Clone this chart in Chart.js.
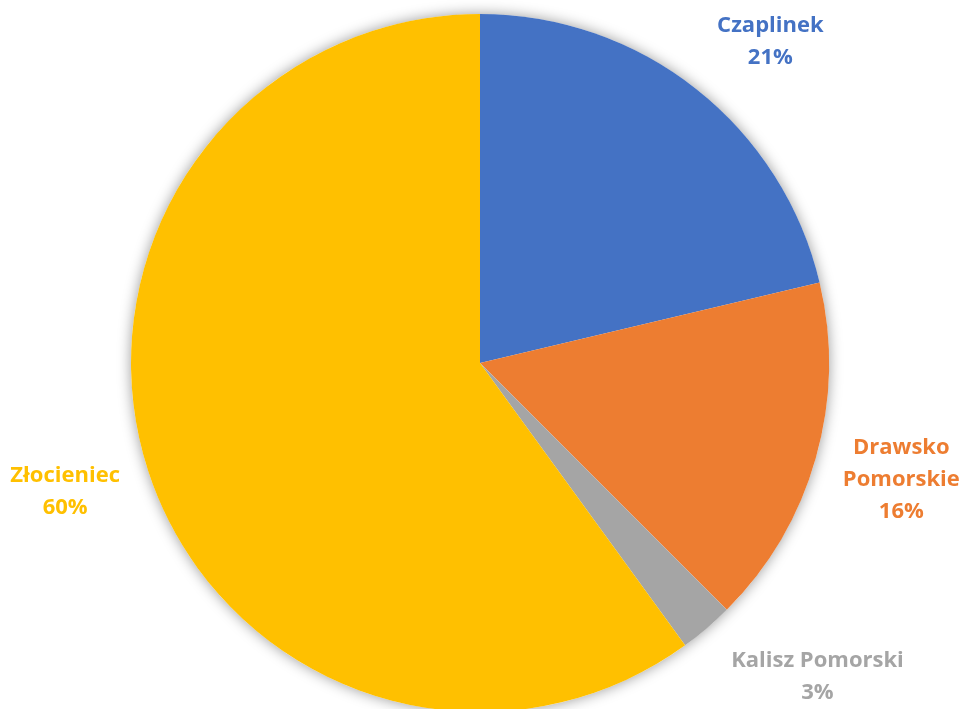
<!DOCTYPE html>
<html>
<head>
<meta charset="utf-8">
<script src="https://cdn.jsdelivr.net/npm/chart.js@4.4.0/dist/chart.umd.min.js"></script>
<style>
    html, body { margin: 0; padding: 0; background: #ffffff; overflow: hidden; }
    #wrap { width: 964px; height: 726px; position: relative; }
</style>
</head>
<body>
<div id="wrap"><canvas id="pieChart"></canvas></div>
<script>
// dane
const towns = ['Czaplinek', 'Drawsko Pomorskie', 'Kalisz Pomorski', 'Złocieniec'];
const shares = [21.3, 16.2, 2.5, 60.0];
const townColors = ['#4472C4', '#ED7D31', '#A5A5A5', '#FFC000'];

// rozmieszczenie etykiet (przesunięcie kąta w stopniach, odległość jako ułamek promienia)
const labelAngleShift = [3.8, -0.3, -6.6, 0.7];
const labelDistance = [1.24, 1.253, 1.32, 1.245];
const labelLines = [['Czaplinek'], ['Drawsko', 'Pomorskie'], ['Kalisz Pomorski'], ['Złocieniec']];

const pieShadow = {
    id: 'pieShadow',
    beforeDatasetsDraw(chart) {
        const arc = chart.getDatasetMeta(0).data[0];
        const ctx = chart.ctx;
        ctx.save();
        ctx.shadowColor = 'rgba(0,0,0,0.40)';
        ctx.shadowBlur = 14;
        ctx.shadowOffsetX = 0;
        ctx.shadowOffsetY = 0;
        ctx.beginPath();
        ctx.arc(arc.x, arc.y, arc.outerRadius, 0, Math.PI * 2);
        ctx.fillStyle = '#ffffff';
        ctx.fill();
        ctx.restore();
    }
};

const outsideLabels = {
    id: 'outsideLabels',
    afterDatasetsDraw(chart) {
        const ctx = chart.ctx;
        const values = chart.data.datasets[0].data;
        const total = values.reduce((a, b) => a + b, 0);
        chart.getDatasetMeta(0).data.forEach((arc, i) => {
            const mid = (arc.startAngle + arc.endAngle) / 2 + labelAngleShift[i] * Math.PI / 180;
            const r = arc.outerRadius * labelDistance[i];
            const x = arc.x + Math.cos(mid) * r;
            const y = arc.y + Math.sin(mid) * r;
            const lines = labelLines[i].concat([Math.round(values[i] / total * 100) + '%']);
            const lh = 32;
            ctx.save();
            ctx.font = 'bold 22px "Open Sans", sans-serif';
            ctx.fillStyle = townColors[i];
            ctx.textAlign = 'center';
            ctx.textBaseline = 'middle';
            lines.forEach((t, k) => {
                ctx.fillText(t, x, y + (k - (lines.length - 1) / 2) * lh);
            });
            ctx.restore();
        });
    }
};

const pieChart = new Chart(document.getElementById('pieChart').getContext('2d'), {
    type: 'pie',
    data: {
        labels: towns,
        datasets: [{
            data: shares,
            backgroundColor: townColors,
            borderWidth: 0
        }]
    },
    options: {
        responsive: true,
        maintainAspectRatio: false,
        animation: false,
        layout: { padding: { left: 131, right: 135, top: 14, bottom: 14 } },
        plugins: {
            legend: { display: false },
            tooltip: { enabled: false }
        }
    },
    plugins: [pieShadow, outsideLabels]
});
</script>
</body>
</html>
